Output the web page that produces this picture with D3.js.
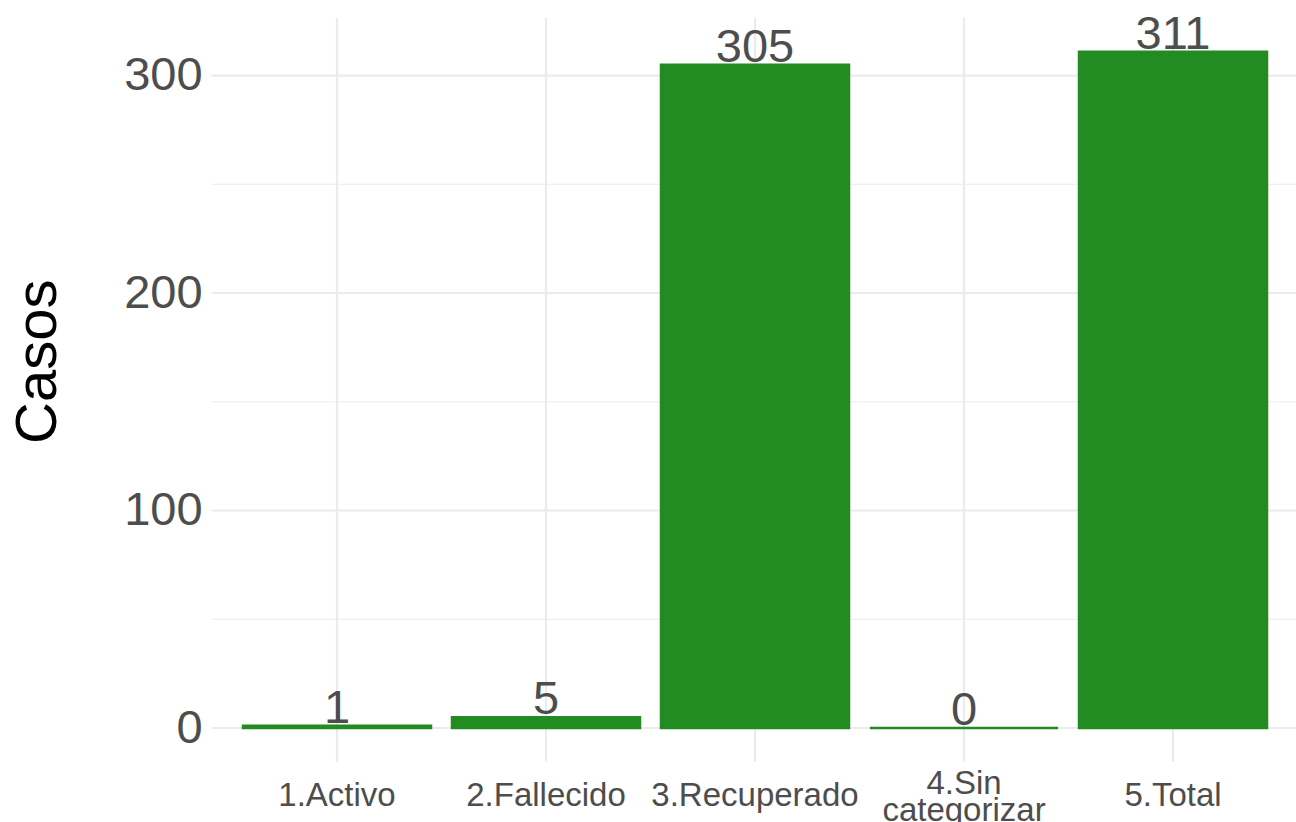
<!DOCTYPE html>
<html>
<head>
<meta charset="utf-8">
<script src="https://cdn.jsdelivr.net/npm/d3@7"></script>
<style>
  html, body { margin: 0; padding: 0; background: #fff; }
  svg { display: block; font-family: "Liberation Sans", Arial, Helvetica, sans-serif; }
</style>
</head>
<body>
<svg id="chart" width="1296" height="822"></svg>
<script>
// ---- data ----
const categories = ["1.Activo", "2.Fallecido", "3.Recuperado", "4.Sin categorizar", "5.Total"];
const casos = [1, 5, 305, 0, 311];
const yMajorTicks = [0, 100, 200, 300];
const yMinorTicks = [50, 150, 250];
const yTitle = "Casos";

// ---- layout ----
const panel = { left: 211.6, right: 1298.4, top: 17.8, bottom: 761.8 };
const textColor = "#4D4D4D";
const gridColor = "#EBEBEB";
const barColor = "#228B22";

const svg = d3.select("#chart");

const x = d3.scaleBand()
  .domain(categories)
  .range([panel.left, panel.right])
  .paddingInner(0.1)
  .paddingOuter(0.15);

const maxV = d3.max(casos);
const ext = maxV * 0.05;
const y = d3.scaleLinear()
  .domain([0 - ext, maxV + ext])
  .range([panel.bottom, panel.top]);

// minor gridlines
svg.append("g").selectAll("line").data(yMinorTicks).join("line")
  .attr("x1", panel.left).attr("x2", panel.right)
  .attr("y1", d => y(d)).attr("y2", d => y(d))
  .attr("stroke", gridColor).attr("stroke-width", 1.1);

// major gridlines
svg.append("g").selectAll("line").data(yMajorTicks).join("line")
  .attr("x1", panel.left).attr("x2", panel.right)
  .attr("y1", d => y(d)).attr("y2", d => y(d))
  .attr("stroke", gridColor).attr("stroke-width", 2.2);

svg.append("g").selectAll("line").data(categories).join("line")
  .attr("x1", d => x(d) + x.bandwidth() / 2).attr("x2", d => x(d) + x.bandwidth() / 2)
  .attr("y1", panel.top).attr("y2", panel.bottom)
  .attr("stroke", gridColor).attr("stroke-width", 2.2);

// bars (drawn as paths so that a zero-height bar still shows its outline)
const data = categories.map((c, i) => ({ cat: c, v: casos[i] }));
svg.append("g").selectAll("path").data(data).join("path")
  .attr("d", d => {
    const x0 = x(d.cat), x1 = x0 + x.bandwidth();
    const y0 = y(0), y1 = y(d.v);
    return `M${x0},${y0}L${x1},${y0}L${x1},${y1}L${x0},${y1}Z`;
  })
  .attr("fill", barColor)
  .attr("stroke", barColor)
  .attr("stroke-width", 2.4)
  .attr("stroke-linejoin", "miter");

// value labels
svg.append("g").selectAll("text").data(data).join("text")
  .attr("x", d => x(d.cat) + x.bandwidth() / 2)
  .attr("y", d => y(d.v) - 3)
  .attr("text-anchor", "middle")
  .attr("font-size", 47)
  .attr("fill", textColor)
  .text(d => d.v);

// y axis
const yAxis = d3.axisLeft(y).tickValues(yMajorTicks).tickSize(0).tickPadding(9);
const gy = svg.append("g").attr("transform", `translate(${panel.left},0)`).call(yAxis);
gy.select(".domain").remove();
gy.selectAll("text")
  .attr("font-size", 47)
  .attr("font-family", "\"Liberation Sans\", Arial, Helvetica, sans-serif")
  .attr("fill", textColor)
  .attr("dy", "0.3em");

// x axis
const xAxis = d3.axisBottom(x).tickSize(0).tickPadding(0).tickFormat(() => "");
const gx = svg.append("g").attr("transform", `translate(0,${panel.bottom})`).call(xAxis);
gx.select(".domain").remove();
gx.selectAll(".tick text").each(function (d) {
  const t = d3.select(this)
    .attr("font-size", 33)
    .attr("font-family", "\"Liberation Sans\", Arial, Helvetica, sans-serif")
    .attr("fill", textColor)
    .attr("dy", null)
    .attr("text-anchor", "middle");
  const words = d.split(" ");
  if (words.length === 1) {
    t.append("tspan").attr("x", 0).attr("y", 44).text(d);
  } else {
    t.append("tspan").attr("x", 0).attr("y", 32).text(words[0]);
    t.append("tspan").attr("x", 0).attr("y", 59.5).text(words.slice(1).join(" "));
  }
});

// y title
svg.append("text")
  .attr("transform", `translate(56,${(panel.top + panel.bottom) / 2 - 28}) rotate(-90)`)
  .attr("text-anchor", "middle")
  .attr("font-size", 58)
  .attr("fill", "#000")
  .text(yTitle);
</script>
</body>
</html>
